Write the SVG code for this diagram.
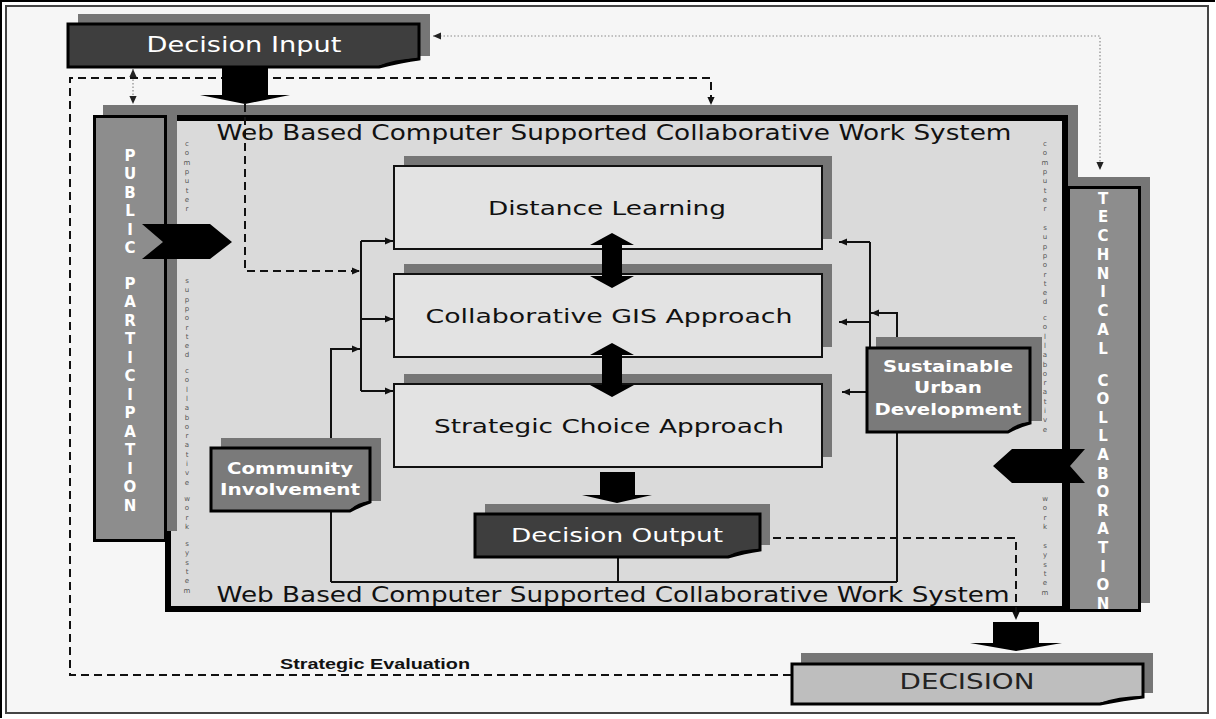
<svg xmlns="http://www.w3.org/2000/svg" width="1216" height="719" viewBox="0 0 1216 719">
<style>
.shadow{fill:#767676}
.box{fill:#e3e3e3;stroke:#111;stroke-width:2}
.dark{fill:#3e3e3e;stroke:#000;stroke-width:3}
.mid{fill:#7a7a7a;stroke:#000;stroke-width:3}
.side{fill:#8d8d8d;stroke:#000;stroke-width:3}
.light{fill:#bebebe;stroke:#000;stroke-width:3}
.ln{fill:none;stroke:#111;stroke-width:2}
.dash{fill:none;stroke:#111;stroke-width:2;stroke-dasharray:8 5}
.dot{fill:none;stroke:#8a8a8a;stroke-width:1.2;stroke-dasharray:1.5 2}
.big{fill:#000}
.t{font-family:"DejaVu Sans","Liberation Sans",sans-serif;text-anchor:middle}
.tb{font-family:"DejaVu Sans","Liberation Sans",sans-serif;font-weight:bold;text-anchor:middle;fill:#fff}
.vl{font-family:"DejaVu Sans","Liberation Sans",sans-serif;font-weight:bold;font-size:15px;text-anchor:middle;fill:#fff}
.vt{font-family:"DejaVu Sans","Liberation Sans",sans-serif;font-size:7px;text-anchor:middle;fill:#555}
.fold{fill:none;stroke:#000;stroke-width:2}
</style>
<defs>
<marker id="ah" viewBox="0 0 10 10" refX="10" refY="5" markerWidth="9" markerHeight="8" markerUnits="userSpaceOnUse" orient="auto-start-reverse"><path d="M0,0.5 L10,5 L0,9.5 Z" fill="#111"/></marker>
<marker id="ahd" viewBox="0 0 10 10" refX="10" refY="5" markerWidth="8" markerHeight="8" markerUnits="userSpaceOnUse" orient="auto-start-reverse"><path d="M0,0.5 L10,5 L0,9.5 Z" fill="#222"/></marker>
</defs>
<rect x="0" y="0" width="1216" height="719" fill="#ffffff"/>
<rect x="6" y="6" width="1202" height="707" fill="#f6f6f6" stroke="#444" stroke-width="2"/>
<path d="M1,718 V1 H1215" fill="none" stroke="#000" stroke-width="2"/>

<!-- main frame -->
<g id="wbcs">
<rect class="shadow" x="175" y="105" width="903" height="497"/>
<rect x="168" y="118" width="897" height="491" fill="#dadada" stroke="#000" stroke-width="6"/>
<text class="t" x="614" y="140" font-size="21" fill="#111" textLength="795" lengthAdjust="spacingAndGlyphs">Web Based Computer Supported Collaborative Work System</text>
<text class="t" x="613" y="602" font-size="21" fill="#111" textLength="793" lengthAdjust="spacingAndGlyphs">Web Based Computer Supported Collaborative Work System</text>
<!-- small vertical texts left -->
<text class="vt" x="187" y="146">c<tspan x="187" dy="9.3">o</tspan><tspan x="187" dy="9.3">m</tspan><tspan x="187" dy="9.3">p</tspan><tspan x="187" dy="9.3">u</tspan><tspan x="187" dy="9.3">t</tspan><tspan x="187" dy="9.3">e</tspan><tspan x="187" dy="9.3">r</tspan></text>
<text class="vt" x="187" y="283">s<tspan x="187" dy="9.3">u</tspan><tspan x="187" dy="9.3">p</tspan><tspan x="187" dy="9.3">p</tspan><tspan x="187" dy="9.3">o</tspan><tspan x="187" dy="9.3">r</tspan><tspan x="187" dy="9.3">t</tspan><tspan x="187" dy="9.3">e</tspan><tspan x="187" dy="9.3">d</tspan></text>
<text class="vt" x="187" y="373">c<tspan x="187" dy="9.3">o</tspan><tspan x="187" dy="9.3">l</tspan><tspan x="187" dy="9.3">l</tspan><tspan x="187" dy="9.3">a</tspan><tspan x="187" dy="9.3">b</tspan><tspan x="187" dy="9.3">o</tspan><tspan x="187" dy="9.3">r</tspan><tspan x="187" dy="9.3">a</tspan><tspan x="187" dy="9.3">t</tspan><tspan x="187" dy="9.3">i</tspan><tspan x="187" dy="9.3">v</tspan><tspan x="187" dy="9.3">e</tspan></text>
<text class="vt" x="187" y="501">w<tspan x="187" dy="9.3">o</tspan><tspan x="187" dy="9.3">r</tspan><tspan x="187" dy="9.3">k</tspan></text>
<text class="vt" x="187" y="546">s<tspan x="187" dy="9.3">y</tspan><tspan x="187" dy="9.3">s</tspan><tspan x="187" dy="9.3">t</tspan><tspan x="187" dy="9.3">e</tspan><tspan x="187" dy="9.3">m</tspan></text>
<!-- small vertical texts right -->
<text class="vt" x="1045" y="146">c<tspan x="1045" dy="9.3">o</tspan><tspan x="1045" dy="9.3">m</tspan><tspan x="1045" dy="9.3">p</tspan><tspan x="1045" dy="9.3">u</tspan><tspan x="1045" dy="9.3">t</tspan><tspan x="1045" dy="9.3">e</tspan><tspan x="1045" dy="9.3">r</tspan></text>
<text class="vt" x="1045" y="230">s<tspan x="1045" dy="9.3">u</tspan><tspan x="1045" dy="9.3">p</tspan><tspan x="1045" dy="9.3">p</tspan><tspan x="1045" dy="9.3">o</tspan><tspan x="1045" dy="9.3">r</tspan><tspan x="1045" dy="9.3">t</tspan><tspan x="1045" dy="9.3">e</tspan><tspan x="1045" dy="9.3">d</tspan></text>
<text class="vt" x="1045" y="320">c<tspan x="1045" dy="9.3">o</tspan><tspan x="1045" dy="9.3">l</tspan><tspan x="1045" dy="9.3">l</tspan><tspan x="1045" dy="9.3">a</tspan><tspan x="1045" dy="9.3">b</tspan><tspan x="1045" dy="9.3">o</tspan><tspan x="1045" dy="9.3">r</tspan><tspan x="1045" dy="9.3">a</tspan><tspan x="1045" dy="9.3">t</tspan><tspan x="1045" dy="9.3">i</tspan><tspan x="1045" dy="9.3">v</tspan><tspan x="1045" dy="9.3">e</tspan></text>
<text class="vt" x="1045" y="501">w<tspan x="1045" dy="9.3">o</tspan><tspan x="1045" dy="9.3">r</tspan><tspan x="1045" dy="9.3">k</tspan></text>
<text class="vt" x="1045" y="548">s<tspan x="1045" dy="9.3">y</tspan><tspan x="1045" dy="9.3">s</tspan><tspan x="1045" dy="9.3">t</tspan><tspan x="1045" dy="9.3">e</tspan><tspan x="1045" dy="9.3">m</tspan></text>
</g>

<g id="public-participation">
<rect class="shadow" x="103" y="105" width="74" height="426"/>
<rect class="side" x="94.5" y="116.5" width="71" height="424"/>
<text class="vl" x="130" y="160.5">P<tspan x="130" dy="18.5">U</tspan><tspan x="130" dy="18.5">B</tspan><tspan x="130" dy="18.5">L</tspan><tspan x="130" dy="18.5">I</tspan><tspan x="130" dy="18.5">C</tspan><tspan x="130" dy="35.5">P</tspan><tspan x="130" dy="18.5">A</tspan><tspan x="130" dy="18.5">R</tspan><tspan x="130" dy="18.5">T</tspan><tspan x="130" dy="18.5">I</tspan><tspan x="130" dy="18.5">C</tspan><tspan x="130" dy="18.5">I</tspan><tspan x="130" dy="18.5">P</tspan><tspan x="130" dy="18.5">A</tspan><tspan x="130" dy="18.5">T</tspan><tspan x="130" dy="18.5">I</tspan><tspan x="130" dy="18.5">O</tspan><tspan x="130" dy="18.5">N</tspan></text>
</g>

<g id="technical-collaboration">
<rect class="shadow" x="1076" y="177" width="74" height="426"/>
<rect class="side" x="1068.5" y="187.5" width="71" height="423"/>
<text class="vl" x="1103" y="203.5">T<tspan x="1103" dy="18.75">E</tspan><tspan x="1103" dy="18.75">C</tspan><tspan x="1103" dy="18.75">H</tspan><tspan x="1103" dy="18.75">N</tspan><tspan x="1103" dy="18.75">I</tspan><tspan x="1103" dy="18.75">C</tspan><tspan x="1103" dy="18.75">A</tspan><tspan x="1103" dy="18.75">L</tspan><tspan x="1103" dy="32">C</tspan><tspan x="1103" dy="18.6">O</tspan><tspan x="1103" dy="18.6">L</tspan><tspan x="1103" dy="18.6">L</tspan><tspan x="1103" dy="18.6">A</tspan><tspan x="1103" dy="18.6">B</tspan><tspan x="1103" dy="18.6">O</tspan><tspan x="1103" dy="18.6">R</tspan><tspan x="1103" dy="18.6">A</tspan><tspan x="1103" dy="18.6">T</tspan><tspan x="1103" dy="18.6">I</tspan><tspan x="1103" dy="18.6">O</tspan><tspan x="1103" dy="18.6">N</tspan></text>
</g>

<g id="connectors">
<!-- dotted feedback top -->
<path class="dot" d="M433,36 H1100 V170" marker-start="url(#ahd)" marker-end="url(#ahd)"/>
<path class="dot" d="M133,69 V104" marker-start="url(#ahd)" marker-end="url(#ahd)"/>
<!-- strategic evaluation loop -->
<path class="dash" d="M791,675 H70 V78 H711 V105" marker-end="url(#ah)"/>
<path class="dash" d="M245,104 V271 H360" marker-end="url(#ah)"/>
<path class="dash" d="M773,538 H1016 V620" marker-end="url(#ah)"/>
<!-- left feed -->
<path class="ln" d="M361,241 V391"/>
<path class="ln" d="M361,241 H393" marker-end="url(#ah)"/>
<path class="ln" d="M361,319 H393" marker-end="url(#ah)"/>
<path class="ln" d="M361,391 H393" marker-end="url(#ah)"/>
<path class="ln" d="M618,557 V582 M331,582 H897"/>
<path class="ln" d="M331,582 V349 H360" marker-end="url(#ah)"/>
<!-- right feed -->
<path class="ln" d="M897,582 V313 H871" marker-end="url(#ah)"/>
<path class="ln" d="M870,348 V242"/>
<path class="ln" d="M870,242 H839" marker-end="url(#ah)"/>
<path class="ln" d="M870,322 H839" marker-end="url(#ah)"/>
<path class="ln" d="M867,392 H842" marker-end="url(#ah)"/>
<!-- block arrows -->
<polygon class="big" points="222,67 268,67 268,95 290,95 245,104 200,95 222,95"/>
<polygon class="big" points="600,472 635,472 635,495 652,495 617,503 582,495 600,495"/>
<polygon class="big" points="993,622 1039,622 1039,643 1062,643 1016,651 970,643 993,643"/>
<polygon class="big" points="142,224 210,224 232,242 210,259 142,259 163,242"/>
<polygon class="big" points="1085,449 1012,449 993,466 1012,483 1085,483 1070,466"/>
<text x="375" y="669" font-family="'Liberation Sans Narrow','Liberation Sans',sans-serif" font-weight="bold" font-size="14" text-anchor="middle" fill="#111" textLength="190" lengthAdjust="spacingAndGlyphs">Strategic Evaluation</text>
</g>

<g id="decision-input">
<rect class="shadow" x="78" y="14" width="352" height="42"/>
<path class="dark" d="M68,24 H419 V59 Q403,61 379,67 H68 Z"/>
<path class="fold" d="M379,67 Q393,60 419,59"/>
<text class="t" x="244" y="52" font-size="21" fill="#fff" textLength="195" lengthAdjust="spacingAndGlyphs">Decision Input</text>
</g>

<g id="distance-learning">
<rect class="shadow" x="404" y="156" width="428" height="83"/>
<rect class="box" x="394" y="166" width="428" height="83"/>
<text class="t" x="607" y="215" font-size="20" fill="#111" textLength="238" lengthAdjust="spacingAndGlyphs">Distance Learning</text>
</g>

<g id="collaborative-gis">
<rect class="shadow" x="404" y="264" width="428" height="83"/>
<rect class="box" x="394" y="274" width="428" height="83"/>
<text class="t" x="609" y="323" font-size="20" fill="#111" textLength="367" lengthAdjust="spacingAndGlyphs">Collaborative GIS Approach</text>
</g>

<g id="strategic-choice">
<rect class="shadow" x="404" y="374" width="428" height="83"/>
<rect class="box" x="394" y="384" width="428" height="83"/>
<text class="t" x="609" y="433" font-size="20" fill="#111" textLength="350" lengthAdjust="spacingAndGlyphs">Strategic Choice Approach</text>
</g>

<g id="connectors-double-arrows">
<polygon class="big" points="612,233 634,245 622,245 622,276 634,276 612,288 590,276 602,276 602,245 590,245"/>
<polygon class="big" points="612,343 634,355 622,355 622,385 634,385 612,397 590,385 602,385 602,355 590,355"/>
</g>

<g id="community-involvement">
<rect class="shadow" x="221" y="438" width="160" height="63"/>
<path class="mid" d="M211,448 H370 V502 Q361,505 350,511 H211 Z"/>
<path class="fold" d="M350,511 Q358,503 370,502"/>
<text class="tb" x="290" y="474" font-size="16" textLength="126" lengthAdjust="spacingAndGlyphs">Community</text>
<text class="tb" x="290" y="495" font-size="16" textLength="140" lengthAdjust="spacingAndGlyphs">Involvement</text>
</g>

<g id="sustainable-urban-development">
<rect class="shadow" x="876" y="337" width="166" height="84"/>
<path class="mid" d="M867,348 H1030 V423 Q1019,426 1008,432 H867 Z"/>
<path class="fold" d="M1008,432 Q1016,424 1030,423"/>
<text class="tb" x="948" y="372" font-size="16" textLength="130" lengthAdjust="spacingAndGlyphs">Sustainable</text>
<text class="tb" x="948" y="393" font-size="16" textLength="68" lengthAdjust="spacingAndGlyphs">Urban</text>
<text class="tb" x="948" y="415" font-size="16" textLength="147" lengthAdjust="spacingAndGlyphs">Development</text>
</g>

<g id="decision-output">
<rect class="shadow" x="485" y="504" width="285" height="41"/>
<path class="dark" d="M475,514 H760 V550 Q745,552 728,557 H475 Z"/>
<path class="fold" d="M728,557 Q740,550 760,550"/>
<text class="t" x="617" y="542" font-size="20" fill="#fff" textLength="212" lengthAdjust="spacingAndGlyphs">Decision Output</text>
</g>

<g id="decision">
<rect class="shadow" x="801" y="653" width="352" height="40"/>
<path class="light" d="M792,664 H1143 V697 Q1125,699 1100,704 H792 Z"/>
<path class="fold" d="M1100,704 Q1118,697 1143,697"/>
<text class="t" x="967" y="689" font-size="21" fill="#222" textLength="135" lengthAdjust="spacingAndGlyphs">DECISION</text>
</g>
</svg>
